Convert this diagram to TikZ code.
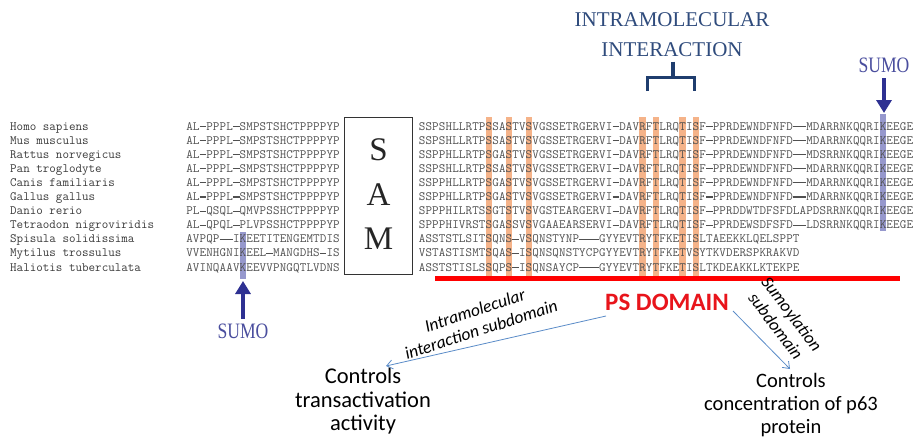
\documentclass[tikz,border=0pt]{standalone}
\usepackage{fontspec}
\setmainfont{Liberation Serif}
\newfontfamily\calibri{Carlito}
\usetikzlibrary{arrows.meta}

\definecolor{seqgray}{HTML}{505050}
\definecolor{namegray}{HTML}{3A3A3A}
\definecolor{orangebar}{HTML}{F29A62}
\definecolor{bluebar}{HTML}{6A6CB8}
\definecolor{sumoblue}{HTML}{2E3192}
\definecolor{sumotext}{HTML}{4A4E9E}
\definecolor{titleblue}{HTML}{2F4B7C}
\definecolor{bracketblue}{HTML}{1F3D6E}
\definecolor{domainred}{HTML}{E8141B}
\definecolor{thinblue}{HTML}{5B8CC8}

% one monospaced cell per residue; '-' becomes a gap line
\newlength\cw
\setlength\cw{6.68pt}
\def\seqloop#1{\ifx\relax#1\else\seqcell{#1}\expandafter\seqloop\fi}
\def\seqcell#1{\if-#1\rule[3pt]{\cw}{1.1pt}\else\makebox[\cw]{#1}\fi}
\newcommand\seqtext[1]{\seqloop#1\relax}
\newcommand\monofont{\ttfamily\fontsize{12.7}{14}\selectfont}

\tikzset{
  seqrow/.style={anchor=base west, inner sep=0pt, text=seqgray, font=\monofont},
  namerow/.style={anchor=base west, inner sep=0pt, text=namegray, font=\monofont},
  hlorange/.style={fill=orangebar, fill opacity=0.75},
  hlblue/.style={fill=bluebar, fill opacity=0.7},
  sumolabel/.style={inner sep=0pt, text=sumotext, font=\fontsize{22}{24}\selectfont},
  sumoarrow/.style={draw=sumoblue, line width=3.4pt, -{Triangle[width=15pt,length=13pt]}},
  sidearrow/.style={draw=thinblue, line width=0.8pt, -{Straight Barb[length=6pt,width=9pt]}},
  effect/.style={align=center, inner sep=0pt},
  subdom/.style={align=center, inner sep=0pt, font=\calibri\itshape\fontsize{17.5}{20}\selectfont}
}

\begin{document}
\begin{tikzpicture}[x=1pt,y=-1pt]
\useasboundingbox (0,0) rectangle (917,437);

% conserved residues in the PS region
\foreach \c in {11,14,17,34,36,40,42}
  \fill[hlorange] ({418.6+(\c-1)*6.68+0.2},117) rectangle ++(6.3,159);
% sumoylated lysines
\fill[hlblue] (879.9,114) rectangle (886.2,231);
\fill[hlblue] (239.6,232) rectangle (245.9,279);

% alignment rows: species, N-terminal stretch, PS region
\foreach \i/\spname/\seqL/\seqR in {
 1/Homo sapiens/AL-PPPL-SMPSTSHCTPPPPYP/SSPSHLLRTPSSASTVSVGSSETRGERVI-DAVRFTLRQTISF-PPRDEWNDFNFD--MDARRNKQQRIKEEGE,
 2/Mus musculus/AL-PPPL-SMPSTSHCTPPPPYP/SSPSHLLRTPSSASTVSVGSSETRGERVI-DAVRFTLRQTISF-PPRDEWNDFNFD--MDARRNKQQRIKEEGE,
 3/Rattus norvegicus/AL-PPPL-SMPSTSHCTPPPPYP/SSPPHLLRTPSGASTVSVGSSETRGERVI-DAVRFTLRQTISF-PPRDEWNDFNFD--MDSRRNKQQRIKEEGE,
 4/Pan troglodyte/AL-PPPL-SMPSTSHCTPPPPYP/SSPSHLLRTPSSASTVSVGSSETRGERVI-DAVRFTLRQTISF-PPRDEWNDFNFD--MDARRNKQQRIKEEGE,
 5/Canis familiaris/AL-PPPL-SMPSTSHCTPPPPYP/SSPPHLLRTPSGASTVSVGSSETRGERVI-DAVRFTLRQTISF-PPRDEWNDFNFD--MDARRNKQQRIKEEGE,
 6/Gallus gallus/AL-PPPL-SMPSTSHCTPPPPYP/SSPPHLLRTPSGASTVSVGSSETRGERVI-DAVRFTLRQTISF-PPRDEWNDFNFD--MDARRNKQQRIKEEGE,
 7/Danio rerio/PL-QSQL-QMVPSSHCTPPPPYP/SPPPHILRTSSGTSTVSVGSTEARGERVI-DAVRFTLRQTISF-PPRDDWTDFSFDLAPDSRRNKQQRIKEEGE,
 8/Tetraodon nigroviridis/AL-QPQL-PLVPSSHCTPPPPYP/SPPPHIVRSTSGASSVSVGAAEARSERVI-DAVRFTLRQTISF-PPRDEWSDFSFD--LDSRRNKQQRIKEEGE,
 9/Spisula solidissima/AVPQP--IKEETITENGEMTDIS/ASSTSTLSITSQNS-VSQNSTYNP---GYYEVTRYTFKETISLTAEEKKLQELSPPT,
 10/Mytilus trossulus/VVENHGNIKEEL-MANGDHS-IS/VSTASTISMTSQAS-ISQNSQNSTYCPGYYEVTRYTFKETVSYTKVDERSPKRAKVD,
 11/Haliotis tuberculata/AVINQAAVKEEVVPNGQTLVDNS/ASSTSTISLSSQPS-ISQNSAYCP---GYYEVTRYTFKETISLTKDEAKKLKTEKPE}
{
  \pgfmathsetmacro\yb{130+(\i-1)*14.1}
  \node[namerow] (sp\i) at (10,\yb) {\spname};
  \node[seqrow] (nt\i) at (186,\yb) {\expandafter\seqtext\expandafter{\seqL}};
  \node[seqrow] (ps\i) at (418.6,\yb) {\expandafter\seqtext\expandafter{\seqR}};
}

% SAM domain box
\node[draw=black!80, line width=1.2pt, minimum width=68pt, minimum height=157pt,
      inner sep=0pt] (sam) at (378.5,196) {};
\node[font=\fontsize{33}{36}\selectfont, text=black!85] (samS) at (378.5,150) {S};
\node[font=\fontsize{33}{36}\selectfont, text=black!85] (samA) at (378.5,195) {A};
\node[font=\fontsize{33}{36}\selectfont, text=black!85] (samM) at (378.5,239) {M};

% PS domain underline
\draw[red, line width=4.5pt] (435,278.5) -- (900,278.5);

% intramolecular interaction bracket
\node[align=center, text=titleblue, font=\fontsize{21}{30}\selectfont] (title) at (672,35)
  {INTRAMOLECULAR\\INTERACTION};
\coordinate (brL) at (647.5,91);
\coordinate (brR) at (694.5,91);
\coordinate (brT) at (673,61.5);
\draw[bracketblue, line width=3.2pt] (brL) |- (brR |- 0,77.5) -- (brR);
\draw[bracketblue, line width=3.2pt] (brT) -- (brT |- 0,77.5);

% SUMO sites
\node[sumolabel] (sumoR) at (884,65) {\scalebox{0.8}[1]{SUMO}};
\coordinate (kR) at (884,113);
\draw[sumoarrow] (884,78) -- (kR);
\node[sumolabel] (sumoL) at (243,331) {\scalebox{0.8}[1]{SUMO}};
\coordinate (kL) at (243,281);
\draw[sumoarrow] (243,319) -- (kL);

% PS domain and its two subdomains
\node[text=domainred, font=\calibri\bfseries\fontsize{25}{28}\selectfont, inner sep=0pt]
  (psdom) at (667,302) {PS DOMAIN};
\node[subdom, rotate=18] (intra) at (478,320) {Intramolecular\\interaction subdomain};
\node[subdom, rotate=-53] (sumoy) at (784,320) {Sumoylation\\subdomain};

\node[effect, font=\calibri\fontsize{22.5}{23.5}\selectfont] (trans) at (363,401)
  {Controls\\transactivation\\activity};
\node[effect, font=\calibri\fontsize{20.5}{23}\selectfont] (conc) at (791,405)
  {Controls\\concentration of p63\\protein};

\coordinate (aL) at (606,316);
\coordinate (aR) at (733,311);
\draw[sidearrow] (aL) -- (386,366);
\draw[sidearrow] (aR) -- (790,369);
\end{tikzpicture}
\end{document}
